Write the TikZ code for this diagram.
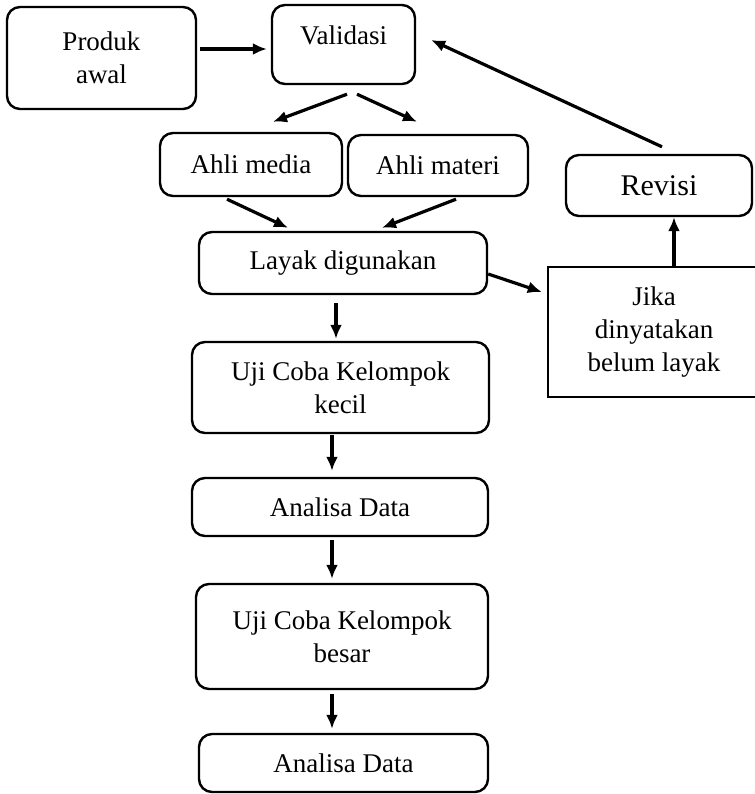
\documentclass[tikz,border=0pt]{standalone}
\usepackage{fontspec}
\setmainfont{Liberation Serif}
\usetikzlibrary{arrows.meta}
\tikzstyle{tahap}=[rectangle,rounded corners=6.5pt,draw=black,line width=1.2pt,
inner sep=0pt,align=center,font=\fontsize{13.5}{16.5}\selectfont]
\tikzstyle{syarat}=[rectangle,draw=black,line width=1.2pt,inner sep=0pt,
align=center,font=\fontsize{13.5}{16.5}\selectfont]
\tikzstyle{alur}=[draw=black,line width=1.6pt,-{Latex[length=7pt,width=6pt]}]

\begin{document}
\begin{tikzpicture}[x=0.5pt,y=-0.5pt]
    \useasboundingbox (0,0) rectangle (755,794);
    % Top part: product and validation by the experts
    \node (produk) [tahap,minimum width=94.5pt,minimum height=51pt] at (101.5,58) {Produk\\awal};
    \node (valid)  [tahap,minimum width=71.5pt,minimum height=39.5pt,text depth=9.5pt] at (343.5,44.5) {Validasi};
    \node (media)  [tahap,minimum width=91pt,minimum height=31.5pt] at (251,164.5) {Ahli media};
    \node (materi) [tahap,minimum width=90pt,minimum height=30.5pt] at (438,165.5) {Ahli materi};
    % Right side: revision loop
    \node (revisi) [tahap,minimum width=93pt,minimum height=30.5pt,font=\fontsize{15}{18}\selectfont] at (659,185.5) {Revisi};
    \node (jika)   [syarat,minimum width=106pt,minimum height=65pt] at (654,332) {Jika\\dinyatakan\\belum layak};
    % Middle column: trials and analysis
    \node (layak)  [tahap,minimum width=144pt,minimum height=31pt] at (343,263) {Layak digunakan};
    \node (kecil)  [tahap,minimum width=148.5pt,minimum height=45.5pt] at (340.5,387.5) {Uji Coba Kelompok\\kecil};
    \node (data1)  [tahap,minimum width=148pt,minimum height=29pt] at (340,507) {Analisa Data};
    \node (besar)  [tahap,minimum width=146pt,minimum height=52.5pt] at (342,636.5) {Uji Coba Kelompok\\besar};
    \node (data2)  [tahap,minimum width=144.5pt,minimum height=29pt] at (343.5,763) {Analisa Data};
    % The boxes are now connected through arrows:
    \path[every edge/.style=alur]
    ([xshift=1.5pt,yshift=4.5pt]produk.east) edge ([xshift=-2pt,yshift=-2.25pt]valid.west)
    ([xshift=1.75pt,yshift=-4.5pt]valid.south) edge ([xshift=11pt,yshift=5pt]media.north)
    ([xshift=6.75pt,yshift=-4.5pt]valid.south) edge ([xshift=-10.5pt,yshift=6pt]materi.north)

    ([xshift=-12pt,yshift=-1pt]media.south) edge ([xshift=-27.5pt,yshift=1.5pt]layak.north)
    ([xshift=9pt,yshift=-1pt]materi.south) edge ([xshift=19.5pt,yshift=1.5pt]layak.north)

    ([yshift=-5.5pt]layak.east) edge ([xshift=-2.5pt,yshift=20pt]jika.west)
    ([xshift=10pt]jika.north) edge ([xshift=7.5pt]revisi.south)
    ([xshift=1.5pt,yshift=3.5pt]revisi.north) edge ([xshift=7.5pt,yshift=2.25pt]valid.east)

    ([xshift=-3.5pt,yshift=-4pt]layak.south) edge ([xshift=-2.25pt,yshift=1pt]kecil.north)
    ([xshift=-4.25pt,yshift=-0.5pt]kecil.south) edge ([xshift=-4pt,yshift=3pt]data1.north)
    ([xshift=-4pt,yshift=-1.5pt]data1.south) edge ([xshift=-5pt,yshift=2pt]besar.north)
    ([xshift=-5pt,yshift=-2pt]besar.south) edge ([xshift=-5.75pt,yshift=2pt]data2.north)
    ;
\end{tikzpicture}
\end{document}
